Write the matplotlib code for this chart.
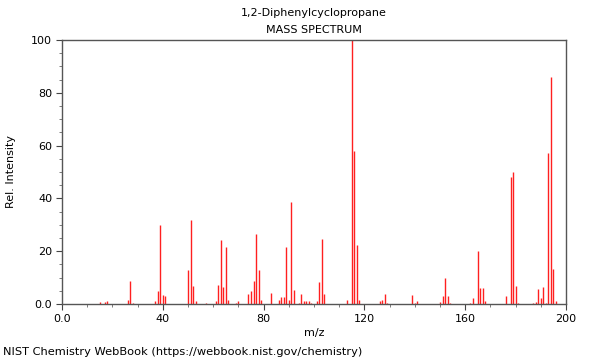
import matplotlib
matplotlib.use('Agg')
import matplotlib.pyplot as plt
from matplotlib.ticker import MultipleLocator

# peaks
mz = [15, 17, 18, 26, 27, 28, 37, 38, 39, 40, 41,
      50, 51, 52, 53, 57, 61, 62, 63, 64, 65, 66, 69, 70,
      74, 75, 76, 77, 78, 79, 83, 86, 87, 88, 89, 90, 91, 92,
      94, 95, 96, 97, 98, 99, 101, 102, 103, 104,
      113, 115, 116, 117, 118, 126, 127, 128, 129, 139, 140, 141,
      150, 151, 152, 153, 154, 162, 163, 165, 166, 167, 168,
      176, 178, 179, 180, 181, 187, 188, 189, 190, 191, 192,
      193, 194, 195, 196]
intensity = [0.9, 0.7, 1.0, 1.5, 8.6, 0.5, 1.0, 4.9, 30.0, 3.4, 3.0,
             12.9, 31.7, 6.8, 1.2, 0.5, 1.0, 7.2, 24.4, 6.4, 21.6, 1.5, 0.5, 1.0,
             3.9, 5.0, 8.6, 26.5, 12.9, 1.5, 4.0, 1.5, 2.5, 2.5, 21.6, 1.5, 38.6, 5.3,
             0.5, 3.8, 1.0, 1.0, 1.0, 0.5, 1.0, 8.3, 24.5, 3.7,
             1.7, 100.0, 57.8, 22.3, 1.7, 1.3, 1.5, 3.8, 0.5, 3.3, 0.5, 1.0,
             0.8, 3.1, 9.8, 3.1, 0.5, 0.5, 2.3, 20.0, 6.2, 6.2, 1.0,
             3.1, 48.0, 50.1, 6.9, 0.5, 0.5, 0.7, 5.7, 2.3, 6.6, 0.5,
             57.3, 86.0, 13.4, 1.3]

plt.rcParams['font.family'] = 'DejaVu Sans'
plt.rcParams['font.size'] = 8

fig = plt.figure(figsize=(6, 3.6), dpi=100)
ax = fig.add_axes([62/600, 1-304/360, 504/600, 264/360])

ax.vlines(mz, 0, intensity, color='#ff2020', linewidth=1)

ax.set_xlim(0, 200)
ax.set_ylim(0, 100)
ax.xaxis.set_major_locator(MultipleLocator(40))
ax.xaxis.set_minor_locator(MultipleLocator(10))
ax.yaxis.set_major_locator(MultipleLocator(20))
ax.yaxis.set_minor_locator(MultipleLocator(5))
ax.set_xticklabels(['0.0' if v == 0 else '%d' % v for v in ax.get_xticks()])
ax.set_yticklabels(['0.0' if v == 0 else '%d' % v for v in ax.get_yticks()])
ax.tick_params(which='major', direction='out', length=4, width=0.8, color='#444444', pad=3)
ax.tick_params(which='minor', direction='out', length=2.5, width=0.6, color='#666666')

for s in ax.spines.values():
    s.set_color('#555555')
    s.set_linewidth(1)

ax.set_xlabel('m/z', labelpad=3)
ax.set_ylabel('Rel. Intensity', labelpad=11)

fig.text(314/600, 1-13/360, '1,2-Diphenylcyclopropane', ha='center', va='center')
fig.text(314/600, 1-30/360, 'MASS SPECTRUM', ha='center', va='center')
fig.text(3/600, 1-352/360, 'NIST Chemistry WebBook (https://webbook.nist.gov/chemistry)',
         ha='left', va='center', fontsize=8.2)

fig.savefig('out.png', dpi=100)
